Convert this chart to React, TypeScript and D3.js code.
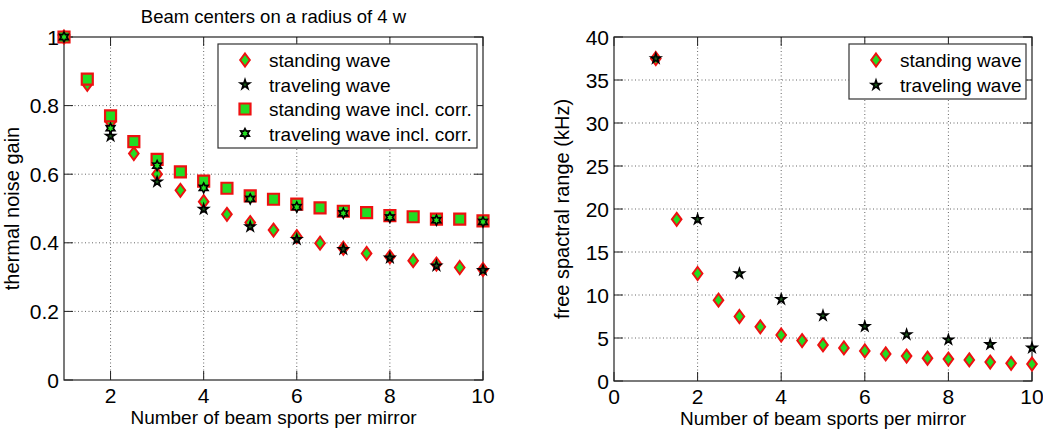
import React from 'react';
import * as d3 from 'd3';

// left panel: thermal noise gain vs. number of beam spots
const xHalf = [1, 1.5, 2, 2.5, 3, 3.5, 4, 4.5, 5, 5.5, 6, 6.5, 7, 7.5, 8, 8.5, 9, 9.5, 10];
const xInt = [1, 2, 3, 4, 5, 6, 7, 8, 9, 10];

const standingGain = [1, 0.862, 0.752, 0.66, 0.6, 0.553, 0.52, 0.483, 0.459, 0.437, 0.418, 0.399, 0.384, 0.369, 0.359, 0.348, 0.338, 0.328, 0.322];
const travelingGain = [1, 0.711, 0.578, 0.498, 0.447, 0.41, 0.381, 0.356, 0.333, 0.32];
const standingCorrGain = [1, 0.877, 0.77, 0.695, 0.643, 0.607, 0.58, 0.559, 0.537, 0.527, 0.513, 0.502, 0.492, 0.488, 0.479, 0.476, 0.469, 0.469, 0.464];
const travelingCorrGain = [1, 0.734, 0.625, 0.56, 0.528, 0.504, 0.486, 0.474, 0.466, 0.461];

// right panel: free spectral range (kHz)
const standingFsr = [37.5, 18.8, 12.5, 9.4, 7.5, 6.3, 5.35, 4.7, 4.2, 3.85, 3.5, 3.15, 2.9, 2.65, 2.55, 2.45, 2.2, 2.05, 1.97];
const travelingFsr = [37.5, 18.8, 12.5, 9.5, 7.6, 6.35, 5.4, 4.8, 4.25, 3.85];

const leftXTicks = [2, 4, 6, 8, 10];
const leftYTicks = [0, 0.2, 0.4, 0.6, 0.8, 1];
const rightXTicks = [0, 2, 4, 6, 8, 10];
const rightYTicks = [0, 5, 10, 15, 20, 25, 30, 35, 40];

const FONT = 'Liberation Sans, Arial, Helvetica, sans-serif';
const RED = '#ee1111';
const GREEN = '#22dd22';

// marker outlines
const diamondPath = 'M0,-6.5L4.8,0L0,6.5L-4.8,0Z';
const squarePath = 'M-5.5,-5.5H5.5V5.5H-5.5Z';
const starPath = d3.symbol().type(d3.symbolStar).size(28)() as string;
const hexPath = (() => {
  const pts: string[] = [];
  for (let i = 0; i < 12; i++) {
    const r = i % 2 === 0 ? 5 : 2.7;
    const a = (Math.PI / 6) * i - Math.PI / 2;
    pts.push(`${(r * Math.cos(a)).toFixed(2)},${(r * Math.sin(a)).toFixed(2)}`);
  }
  return 'M' + pts.join('L') + 'Z';
})();

type MarkerKind = 'diamond' | 'square' | 'star' | 'hex';

const Marker = ({ kind, x, y }: { kind: MarkerKind; x: number; y: number }) => {
  const t = `translate(${x},${y})`;
  if (kind === 'diamond') return <path d={diamondPath} transform={t} fill={GREEN} stroke={RED} strokeWidth={2} />;
  if (kind === 'square') return <path d={squarePath} transform={t} fill={GREEN} stroke={RED} strokeWidth={2.2} />;
  if (kind === 'star') return <path d={starPath} transform={t} fill="#1d5a1d" stroke="#000" strokeWidth={1.6} />;
  return <path d={hexPath} transform={t} fill={GREEN} stroke="#000" strokeWidth={1.6} />;
};

type Series = { kind: MarkerKind; xs: number[]; ys: number[]; label: string };

const Panel = ({
  x0, x1, y0, y1, xDomain, yDomain, xTicks, yTicks, series, yLabel, title, legend,
}: {
  x0: number; x1: number; y0: number; y1: number;
  xDomain: [number, number]; yDomain: [number, number];
  xTicks: number[]; yTicks: number[];
  series: Series[]; yLabel: string; title?: string;
  legend: { x: number; y: number; w: number; h: number; rowH: number };
}) => {
  const xs = d3.scaleLinear().domain(xDomain).range([x0, x1]);
  const ys = d3.scaleLinear().domain(yDomain).range([y1, y0]);
  const tickLen = 9;
  const grid = '#666';
  return (
    <g fontFamily={FONT}>
      {/* grid */}
      {xTicks.filter(t => t !== xDomain[0] && t !== xDomain[1]).map(t => (
        <line key={'gx' + t} x1={xs(t)} x2={xs(t)} y1={y0} y2={y1} stroke={grid} strokeDasharray="1,2.5" />
      ))}
      {yTicks.filter(t => t !== yDomain[0] && t !== yDomain[1]).map(t => (
        <line key={'gy' + t} x1={x0} x2={x1} y1={ys(t)} y2={ys(t)} stroke={grid} strokeDasharray="1,2.5" />
      ))}
      {/* box + ticks */}
      <rect x={x0} y={y0} width={x1 - x0} height={y1 - y0} fill="none" stroke="#222" strokeWidth={1.2} />
      {xTicks.map(t => (
        <g key={'tx' + t}>
          <line x1={xs(t)} x2={xs(t)} y1={y1} y2={y1 - tickLen} stroke="#222" />
          <line x1={xs(t)} x2={xs(t)} y1={y0} y2={y0 + tickLen} stroke="#222" />
          <text x={xs(t)} y={y1 + 23} textAnchor="middle" fontSize={21}>{t}</text>
        </g>
      ))}
      {yTicks.map(t => (
        <g key={'ty' + t}>
          <line x1={x0} x2={x0 + tickLen} y1={ys(t)} y2={ys(t)} stroke="#222" />
          <line x1={x1} x2={x1 - tickLen} y1={ys(t)} y2={ys(t)} stroke="#222" />
          <text x={x0 - 5} y={ys(t) + 7.5} textAnchor="end" fontSize={21}>{t}</text>
        </g>
      ))}
      {/* labels */}
      <text x={(x0 + x1) / 2} y={y1 + 44} textAnchor="middle" fontSize={19}>Number of beam sports per mirror</text>
      <text transform={`translate(${x0 - 45},${(y0 + y1) / 2}) rotate(-90)`} textAnchor="middle" fontSize={20}>{yLabel}</text>
      {title && <text x={(x0 + x1) / 2} y={23} textAnchor="middle" fontSize={18.5}>{title}</text>}
      {/* data */}
      {series.map((s, si) => (
        <g key={'s' + si}>
          {s.xs.map((xv, i) => <Marker key={i} kind={s.kind} x={xs(xv)} y={ys(s.ys[i])} />)}
        </g>
      ))}
      {/* legend */}
      <rect x={legend.x} y={legend.y} width={legend.w} height={legend.h} fill="#fff" stroke="#333" strokeWidth={1.2} />
      {series.map((s, i) => {
        const cy = legend.y + 16 + i * legend.rowH;
        return (
          <g key={'l' + i}>
            <Marker kind={s.kind} x={legend.x + 27} y={cy} />
            <text x={legend.x + 51} y={cy + 7} fontSize={19}>{s.label}</text>
          </g>
        );
      })}
    </g>
  );
};

export default function App() {
  const leftSeries: Series[] = [
    { kind: 'diamond', xs: xHalf, ys: standingGain, label: 'standing wave' },
    { kind: 'star', xs: xInt, ys: travelingGain, label: 'traveling wave' },
    { kind: 'square', xs: xHalf, ys: standingCorrGain, label: 'standing wave incl. corr.' },
    { kind: 'hex', xs: xInt, ys: travelingCorrGain, label: 'traveling wave incl. corr.' },
  ];
  const rightSeries: Series[] = [
    { kind: 'diamond', xs: xHalf, ys: standingFsr, label: 'standing wave' },
    { kind: 'star', xs: xInt, ys: travelingFsr, label: 'traveling wave' },
  ];
  return (
    <svg width={1043} height={430} style={{ position: 'absolute', left: 0, top: 0, background: '#fff' }}>
      <Panel x0={64} x1={483} y0={37} y1={380} xDomain={[1, 10]} yDomain={[0, 1]}
        xTicks={leftXTicks} yTicks={leftYTicks} series={leftSeries}
        yLabel="thermal noise gain" title="Beam centers on a radius of 4 w"
        legend={{ x: 218, y: 44, w: 259, h: 104, rowH: 24.5 }} />
      <Panel x0={614} x1={1032} y0={37} y1={381} xDomain={[0, 10]} yDomain={[0, 40]}
        xTicks={rightXTicks} yTicks={rightYTicks} series={rightSeries}
        yLabel="free spactral range (kHz)"
        legend={{ x: 849, y: 44, w: 177, h: 55, rowH: 25 }} />
    </svg>
  );
}
